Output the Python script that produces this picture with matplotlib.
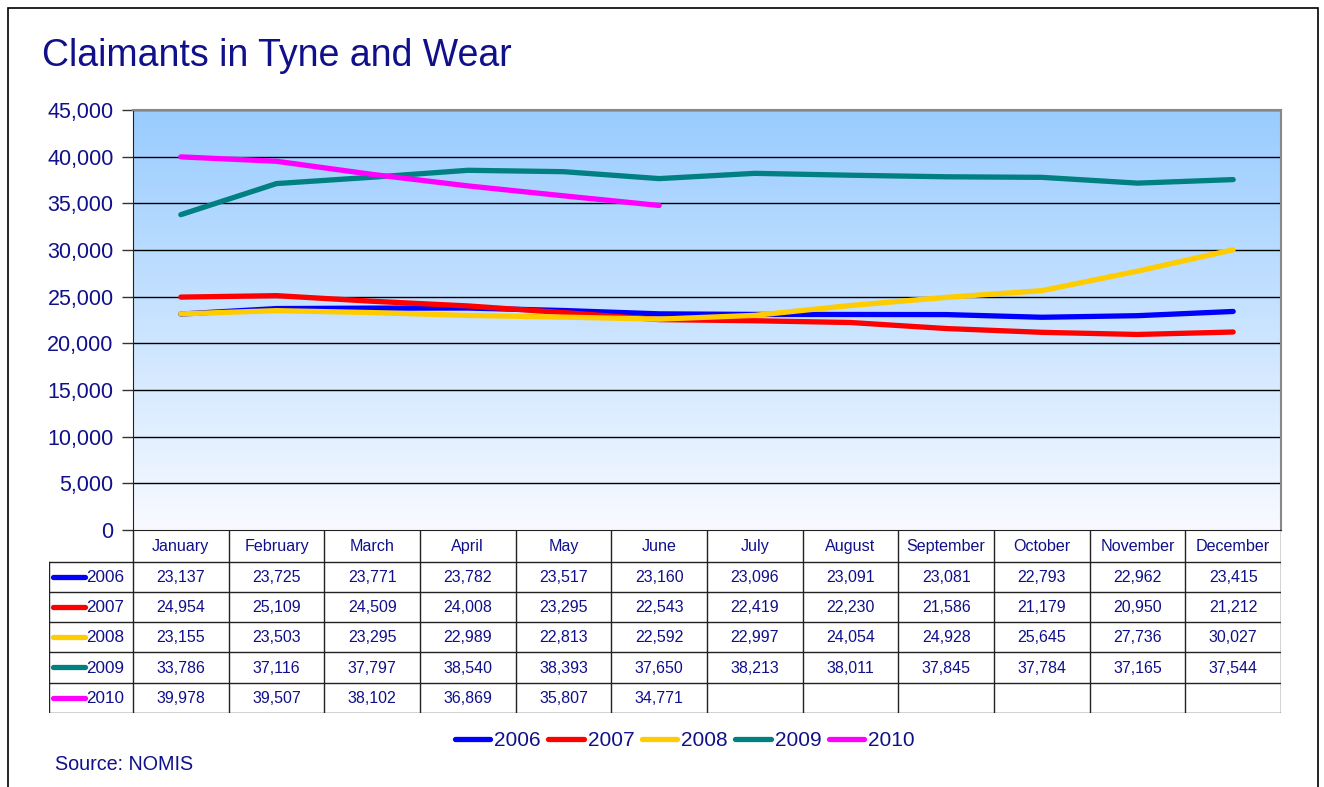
import matplotlib
matplotlib.use("Agg")
import matplotlib.pyplot as plt
import numpy as np
from matplotlib.patches import Rectangle
from matplotlib.lines import Line2D

months = ["January", "February", "March", "April", "May", "June", "July",
          "August", "September", "October", "November", "December"]
years = ["2006", "2007", "2008", "2009", "2010"]
v2006 = [23137, 23725, 23771, 23782, 23517, 23160, 23096, 23091, 23081, 22793, 22962, 23415]
v2007 = [24954, 25109, 24509, 24008, 23295, 22543, 22419, 22230, 21586, 21179, 20950, 21212]
v2008 = [23155, 23503, 23295, 22989, 22813, 22592, 22997, 24054, 24928, 25645, 27736, 30027]
v2009 = [33786, 37116, 37797, 38540, 38393, 37650, 38213, 38011, 37845, 37784, 37165, 37544]
v2010 = [39978, 39507, 38102, 36869, 35807, 34771]
series = [v2006, v2007, v2008, v2009, v2010]
colors = ["#0000FF", "#FF0000", "#FFCC00", "#008080", "#FF00FF"]
yticks = list(range(0, 45001, 5000))

plt.rcParams["font.family"] = ["Liberation Sans", "DejaVu Sans"]
tc = "#10108A"

W, H = 1324, 787
fig = plt.figure(figsize=(W / 100, H / 100), dpi=100)

def fx(px):
    return px / W

def fy(py):
    return 1 - py / H

# figure border
fig.patches.append(Rectangle((fx(8), fy(800)), fx(1318) - fx(8), fy(8) - fy(800),
                             transform=fig.transFigure, fill=False, ec="black", lw=1.2))

L, R, T, B = 133, 1281, 110, 530
ax = fig.add_axes([fx(L), fy(B), fx(R) - fx(L), fy(T) - fy(B)])
ax.set_xlim(0, 12)
ax.set_ylim(0, 45000)

# gradient background
top = np.array([0x99, 0xCC, 0xFF]) / 255
bot = np.array([0xF8, 0xFA, 0xFF]) / 255
t = np.linspace(0, 1, 256)[:, None]
grad = (top * (1 - t) + bot * t)[:, None, :].repeat(2, axis=1)
ax.imshow(grad, extent=[0, 12, 0, 45000], aspect="auto", zorder=0, interpolation="bilinear")

for y in yticks[1:]:
    ax.axhline(y, color="black", lw=1.0, zorder=1)

x = np.arange(12) + 0.5
for vals, c, yr in zip(series, colors, years):
    ax.plot(x[:len(vals)], vals, color=c, lw=3.8, solid_capstyle="round", zorder=3, label=yr)

ax.set_yticks(yticks)
ax.set_yticklabels([f"{v:,}" for v in yticks], fontsize=15.5, color=tc)
ax.tick_params(axis="y", length=8, width=1, pad=6, color="#333333")
ax.set_xticks([])
for s in ["top", "right"]:
    ax.spines[s].set_color("#888888")
    ax.spines[s].set_linewidth(1.5)
ax.spines["left"].set_color("#222222")
ax.spines["bottom"].set_color("#222222")

# data table
TL = 49
tax = fig.add_axes([fx(TL), fy(713), fx(R) - fx(TL), fy(530) - fy(713)])
cw = (R - L) / 12
x0 = -(L - TL) / cw
tax.set_xlim(x0, 12)
tax.set_ylim(713, 530)
tax.axis("off")
rows = [530, 562, 592, 622, 652, 683, 713]
lc = "#222222"
for i in range(13):
    tax.plot([i, i], [530, 713], color=lc, lw=1)
tax.plot([x0, x0], [562, 713], color=lc, lw=1)
for yy in rows[1:]:
    tax.plot([x0, 12], [yy, yy], color=lc, lw=1)
for i, m in enumerate(months):
    tax.text(i + 0.5, (rows[0] + rows[1]) / 2 + 1, m, ha="center", va="center", fontsize=11.6, color=tc)
for r, (vals, c, yr) in enumerate(zip(series, colors, years)):
    yc = (rows[r + 1] + rows[r + 2]) / 2 + 1
    for i, v in enumerate(vals):
        tax.text(i + 0.5, yc, f"{v:,}", ha="center", va="center", fontsize=11.5, color=tc)
    tax.plot([x0 + 0.04, x0 + 0.38], [yc - 1, yc - 1], color=c, lw=3.8, solid_capstyle="round")
    tax.text(-0.09, yc, yr, ha="right", va="center", fontsize=12.3, color=tc)

# legend
handles = [Line2D([], [], color=c, lw=3.8, solid_capstyle="round") for c in colors]
leg = fig.legend(handles, years, loc="center", bbox_to_anchor=(fx(685), fy(741)), ncol=5,
                 frameon=False, fontsize=15, handlelength=1.7, handletextpad=0.2,
                 columnspacing=0.35, labelcolor=tc)

fig.text(fx(42), fy(56), "Claimants in Tyne and Wear", fontsize=27, color=tc, va="center", ha="left")
fig.text(fx(55), fy(764), "Source: NOMIS", fontsize=14.2, color=tc, va="center", ha="left")

fig.savefig("out.png", dpi=100)
